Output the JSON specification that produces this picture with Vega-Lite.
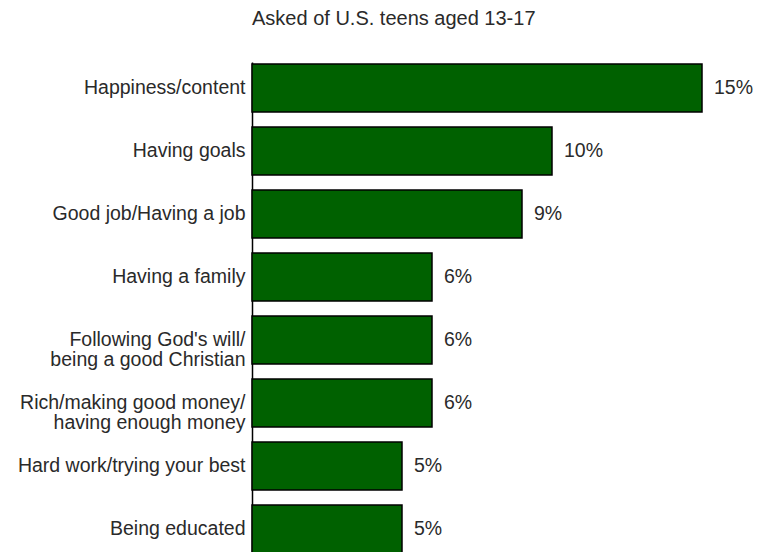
{
  "$schema": "https://vega.github.io/schema/vega-lite/v6.json",
  "width": 505,
  "height": 493,
  "autosize": {"type": "none"},
  "padding": {"left": 252, "top": 62, "right": 0, "bottom": 0},
  "background": "white",
  "config": {"view": {"stroke": null}, "font": "Liberation Sans"},
  "title": {
    "text": "Asked of U.S. teens aged 13-17",
    "anchor": "start",
    "frame": "group",
    "fontSize": 20,
    "font": "Liberation Sans",
    "fontWeight": "normal",
    "color": "#2a2a2a",
    "offset": 33
  },
  "data": {
    "values": [
      {"answer": "Happiness/content", "value": 15, "pct": "15%"},
      {"answer": "Having goals", "value": 10, "pct": "10%"},
      {"answer": "Good job/Having a job", "value": 9, "pct": "9%"},
      {"answer": "Having a family", "value": 6, "pct": "6%"},
      {"answer": "Following God's will/|being a good Christian", "value": 6, "pct": "6%"},
      {"answer": "Rich/making good money/|having enough money", "value": 6, "pct": "6%"},
      {"answer": "Hard work/trying your best", "value": 5, "pct": "5%"},
      {"answer": "Being educated", "value": 5, "pct": "5%"}
    ]
  },
  "encoding": {
    "y": {
      "field": "answer",
      "type": "nominal",
      "sort": null,
      "scale": {"paddingInner": 0.238, "paddingOuter": 0.03},
      "axis": {
        "title": null,
        "domain": true,
        "domainColor": "#000000",
        "domainWidth": 1.5,
        "ticks": false,
        "grid": false,
        "labelPadding": 7,
        "labelFontSize": 19.5,
        "labelFont": "Liberation Sans",
        "labelColor": "#2a2a2a",
        "labelLimit": 0,
        "labelLineHeight": 20,
        "labelExpr": "split(datum.label, '|')"
      }
    },
    "x": {
      "field": "value",
      "type": "quantitative",
      "scale": {"domain": [0, 16.833], "nice": false, "zero": true},
      "axis": null
    }
  },
  "layer": [
    {
      "mark": {"type": "bar", "color": "#006100", "stroke": "#000000", "strokeWidth": 1.5}
    },
    {
      "mark": {"type": "text", "align": "left", "baseline": "middle", "dx": 12, "fontSize": 19.5, "font": "Liberation Sans", "color": "#2a2a2a"},
      "encoding": {"text": {"field": "pct"}}
    }
  ]
}
